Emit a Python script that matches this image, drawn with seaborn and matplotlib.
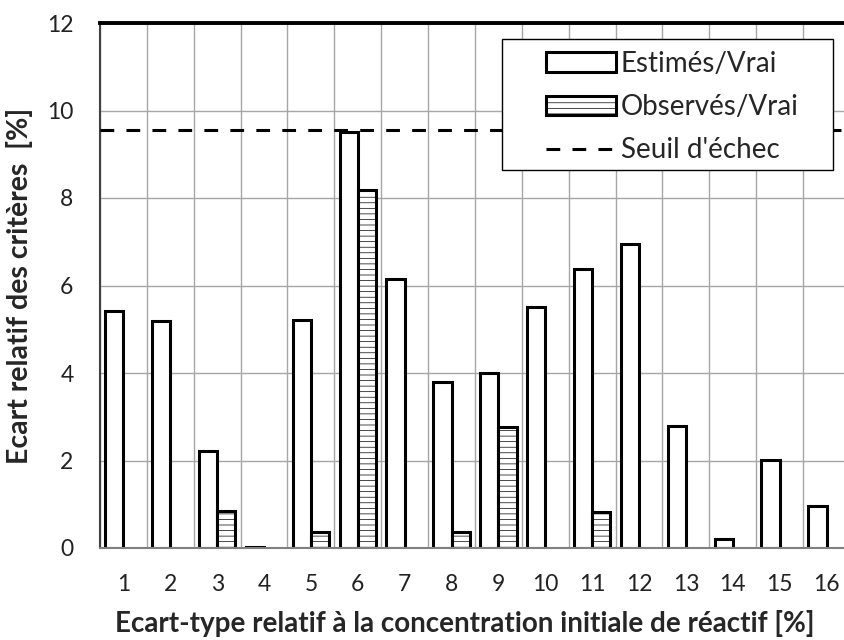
import matplotlib
matplotlib.use("Agg")
import matplotlib.pyplot as plt
import numpy as np
import pandas as pd
import seaborn as sns
from matplotlib.lines import Line2D
from matplotlib.patches import Patch, Rectangle

# valeurs
criteres = [str(i) for i in range(1, 17)]
estimes = [5.42, 5.20, 2.22, 0.03, 5.22, 9.52, 6.15, 3.79, 3.99, 5.50,
           6.38, 6.96, 2.79, 0.21, 2.01, 0.97]
observes = [np.nan, np.nan, 0.85, np.nan, 0.37, 8.18, np.nan, 0.37, 2.77, np.nan,
            0.82, np.nan, np.nan, np.nan, np.nan, np.nan]
series = ["Estimés/Vrai", "Observés/Vrai"]
seuil = 9.55
seuil_label = "Seuil d'échec"
yticks = [0, 2, 4, 6, 8, 10, 12]

df = pd.DataFrame({
    "critere": criteres * 2,
    "valeur": estimes + observes,
    "serie": [series[0]] * len(criteres) + [series[1]] * len(criteres),
})

sns.set_theme(style="white")
plt.rcParams["font.family"] = ["Lato", "DejaVu Sans"]
plt.rcParams["hatch.linewidth"] = 0.5

fig = plt.figure(figsize=(8.45, 6.4), dpi=100)
ax = fig.add_axes([100 / 845, 92 / 640, 750 / 845, 525 / 640])

sns.barplot(data=df, x="critere", y="valeur", hue="serie", order=criteres,
            hue_order=series, palette=["white", "white"], saturation=1,
            edgecolor="black", linewidth=2.2, width=0.78, errorbar=None,
            legend=False, ax=ax)
for bar in ax.containers[1]:
    bar.set_hatch("---")

ax.axhline(seuil, color="black", lw=2.2, dashes=(4.5, 4), zorder=3)

ax.set_xlim(-0.5, len(criteres) - 0.5)
ax.set_ylim(0, 12)
ax.set_yticks(yticks)
ax.set_yticklabels([str(t) for t in yticks])
ax.set_xticks(np.arange(-0.5, len(criteres), 1.0), minor=True)
ax.set_axisbelow(True)
ax.grid(True, which="minor", axis="x", color="#a6a6a6", lw=1)
ax.grid(True, which="major", axis="y", color="#a6a6a6", lw=1)

ax.tick_params(axis="x", which="major", length=0, pad=19, labelsize=16.5, colors="#222222")
ax.tick_params(axis="x", which="minor", length=6.5, width=1, color="#8c8c8c", direction="out")
ax.tick_params(axis="y", which="major", length=0, pad=19, labelsize=16.5, colors="#222222")

ax.spines["top"].set_color("black")
ax.spines["top"].set_linewidth(2.8)
ax.spines["right"].set_visible(False)
ax.spines["left"].set_color("#404040")
ax.spines["left"].set_linewidth(1.5)
ax.spines["bottom"].set_color("#808080")
ax.spines["bottom"].set_linewidth(1.5)

ax.set_xlabel("Ecart-type relatif à la concentration initiale de réactif [%]",
              fontsize=20, fontweight="bold")
ax.xaxis.set_label_coords(0.487, -0.118)
ax.set_ylabel("Ecart relatif des critères  [%]", fontsize=20.5, fontweight="bold", labelpad=10)

# cadre de la légende
ax.add_patch(Rectangle((0.536, 0.72), 0.441, 0.2495, transform=ax.transAxes,
                       facecolor="white", edgecolor="black", lw=1, zorder=5))
handles = [
    Patch(facecolor="white", edgecolor="black", linewidth=2.2),
    Patch(facecolor="white", edgecolor="black", linewidth=2.2, hatch="---"),
    Line2D([], [], color="black", lw=2.2, dashes=(4.5, 4)),
]
leg = ax.legend(handles, series + [seuil_label], loc="upper left",
                bbox_to_anchor=(0.595, 0.947), frameon=False, fontsize=20,
                borderpad=0, borderaxespad=0, handlelength=2.5, handleheight=0.7,
                handletextpad=0.18, labelspacing=0.62)
leg.set_zorder(6)

fig.savefig("out.png", dpi=100)
